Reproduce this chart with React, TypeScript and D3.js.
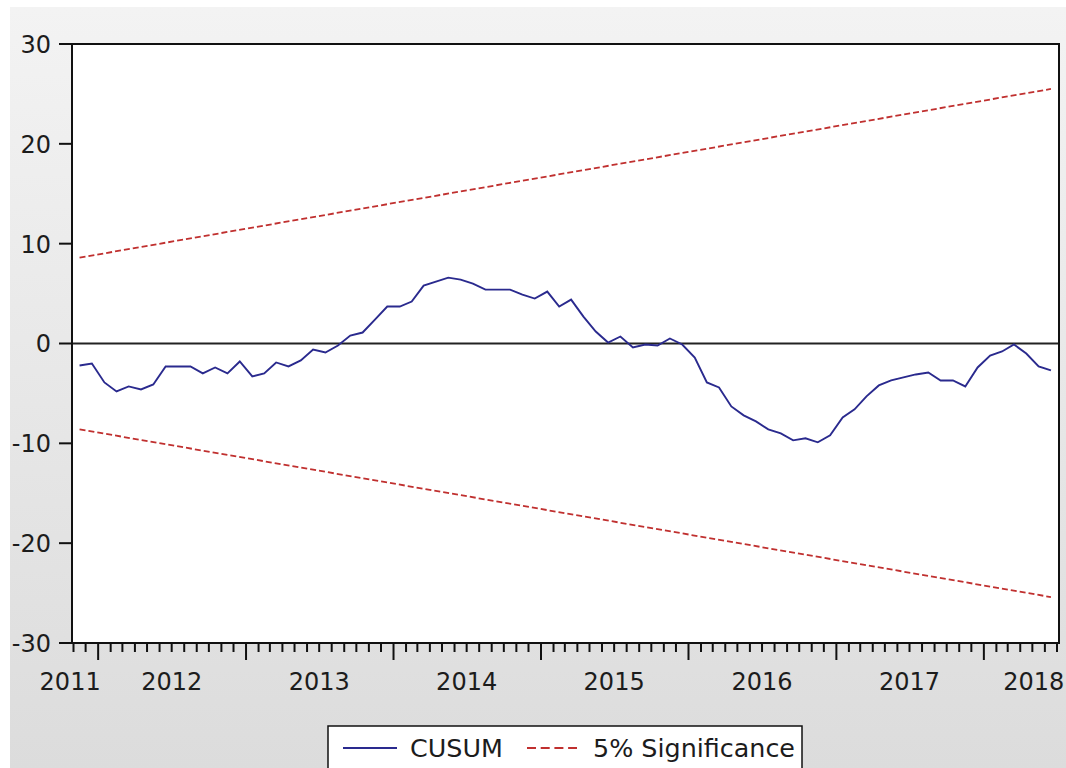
import React from 'react';
import * as d3 from 'd3';

// Observation window (monthly): Nov 2011 .. Jun 2018
const startMonth = new Date(2011, 10, 1);
const endMonth = new Date(2018, 6, 1);

// CUSUM values, one per month
const cusum: number[] = [
  -2.2, -2.0, -3.9, -4.8, -4.3, -4.6, -4.1, -2.3, -2.3, -2.3, -3.0, -2.4, -3.0, -1.8, -3.3, -3.0,
  -1.9, -2.3, -1.7, -0.6, -0.9, -0.2, 0.8, 1.1, 2.4, 3.7, 3.7, 4.2, 5.8, 6.2, 6.6, 6.4,
  6.0, 5.4, 5.4, 5.4, 4.9, 4.5, 5.2, 3.7, 4.4, 2.7, 1.2, 0.1, 0.7, -0.4, -0.1, -0.2,
  0.5, -0.1, -1.4, -3.9, -4.4, -6.3, -7.2, -7.8, -8.6, -9.0, -9.7, -9.5, -9.9, -9.2, -7.4, -6.6,
  -5.3, -4.2, -3.7, -3.4, -3.1, -2.9, -3.7, -3.7, -4.3, -2.4, -1.2, -0.8, -0.1, -1.0, -2.3, -2.7,
];

// 5% significance bounds at the first and last observation
const upperBound: number[] = [8.6, 25.5];
const lowerBound: number[] = [-8.6, -25.4];

const yTicks: number[] = [-30, -20, -10, 0, 10, 20, 30];
const yearLabels: number[] = [2011, 2012, 2013, 2014, 2015, 2016, 2017, 2018];

const legendItems = [
  { label: 'CUSUM', color: '#2a2a8e' },
  { label: '5% Significance', color: '#c0302f' },
];

const W = 1066;
const H = 768;
const plot = { left: 72, top: 44, right: 1059, bottom: 643 };
const FONT = '"DejaVu Sans", Verdana, sans-serif';

export default function App() {
  const months = d3.timeMonth.range(startMonth, endMonth);
  const mid = (m: Date) => {
    const n = d3.timeMonth.offset(m, 1);
    return new Date((m.getTime() + n.getTime()) / 2);
  };
  const x = d3.scaleTime().domain([startMonth, endMonth]).range([73.5, 1057]);
  const y = d3.scaleLinear().domain([-30, 30]).range([plot.bottom, plot.top]);

  const pts = months.map((m, i) => ({ d: mid(m), v: cusum[i] }));
  const line = d3
    .line<{ d: Date; v: number }>()
    .x((p) => x(p.d))
    .y((p) => y(p.v));

  const firstD = mid(months[0]);
  const lastD = mid(months[months.length - 1]);
  const upPts = [
    { d: firstD, v: upperBound[0] },
    { d: lastD, v: upperBound[1] },
  ];
  const loPts = [
    { d: firstD, v: lowerBound[0] },
    { d: lastD, v: lowerBound[1] },
  ];

  const tickMonths = d3.timeMonth.range(startMonth, d3.timeMonth.offset(endMonth, 1));
  const labelX = (yr: number) => {
    if (yr === yearLabels[0]) return x(new Date(yr + 1, 0, 1)) - 28;
    if (yr === yearLabels[yearLabels.length - 1]) return x(new Date(yr, 0, 1)) + 50;
    return x(new Date(yr, 6, 1));
  };

  return (
    <svg
      width={W}
      height={H}
      style={{ position: 'absolute', left: 0, top: 0, display: 'block' }}
      fontFamily={FONT}
    >
      <defs>
        <linearGradient id="bg" x1="0" y1="0" x2="0" y2="1">
          <stop offset="0" stopColor="#f3f3f3" />
          <stop offset="1" stopColor="#dcdcdc" />
        </linearGradient>
        <clipPath id="clip">
          <rect x={plot.left} y={plot.top} width={plot.right - plot.left} height={plot.bottom - plot.top} />
        </clipPath>
      </defs>
      <rect x={0} y={0} width={W} height={H} fill="#ffffff" />
      <rect x={10} y={7} width={W - 10} height={H - 7} fill="url(#bg)" />
      <rect
        x={plot.left}
        y={plot.top}
        width={plot.right - plot.left}
        height={plot.bottom - plot.top}
        fill="#ffffff"
      />
      <g clipPath="url(#clip)">
        <line x1={plot.left} x2={plot.right} y1={y(0)} y2={y(0)} stroke="#222" strokeWidth={2.2} />
        <path d={line(upPts) || ''} fill="none" stroke="#c0302f" strokeWidth={1.8} strokeDasharray="6,3" />
        <path d={line(loPts) || ''} fill="none" stroke="#c0302f" strokeWidth={1.8} strokeDasharray="6,3" />
        <path d={line(pts) || ''} fill="none" stroke="#2a2a8e" strokeWidth={1.9} />
      </g>
      <rect
        x={plot.left}
        y={plot.top}
        width={plot.right - plot.left}
        height={plot.bottom - plot.top}
        fill="none"
        stroke="#111"
        strokeWidth={2}
      />
      {/* Y axis */}
      {yTicks.map((t) => (
        <g key={t}>
          <line x1={59} x2={plot.left} y1={y(t)} y2={y(t)} stroke="#111" strokeWidth={2} />
          <text x={51} y={y(t)} dy="0.37em" textAnchor="end" fontSize={24} fill="#1c1c1c">
            {t}
          </text>
        </g>
      ))}
      {/* X axis ticks */}
      {tickMonths.map((m, i) => {
        const major = m.getMonth() === 0;
        const xx = x(m);
        if (xx < plot.left || xx > plot.right) return null;
        return (
          <line
            key={i}
            x1={xx}
            x2={xx}
            y1={plot.bottom}
            y2={plot.bottom + (major ? 17 : 9)}
            stroke="#111"
            strokeWidth={2}
          />
        );
      })}
      {yearLabels.map((yr) => (
        <text key={yr} x={labelX(yr)} y={690} textAnchor="middle" fontSize={24} fill="#1c1c1c">
          {yr}
        </text>
      ))}
      {/* Legend */}
      <rect x={328} y={726} width={474} height={70} fill="#ffffff" stroke="#111" strokeWidth={1.5} />
      <line x1={343} x2={397} y1={748} y2={748} stroke={legendItems[0].color} strokeWidth={2} />
      <text x={410} y={757} fontSize={25.4} fill="#1c1c1c">
        {legendItems[0].label}
      </text>
      <line
        x1={527}
        x2={577}
        y1={748}
        y2={748}
        stroke={legendItems[1].color}
        strokeWidth={2}
        strokeDasharray="9,4.7"
      />
      <text x={593} y={757} fontSize={25.4} fill="#1c1c1c">
        {legendItems[1].label}
      </text>
    </svg>
  );
}
